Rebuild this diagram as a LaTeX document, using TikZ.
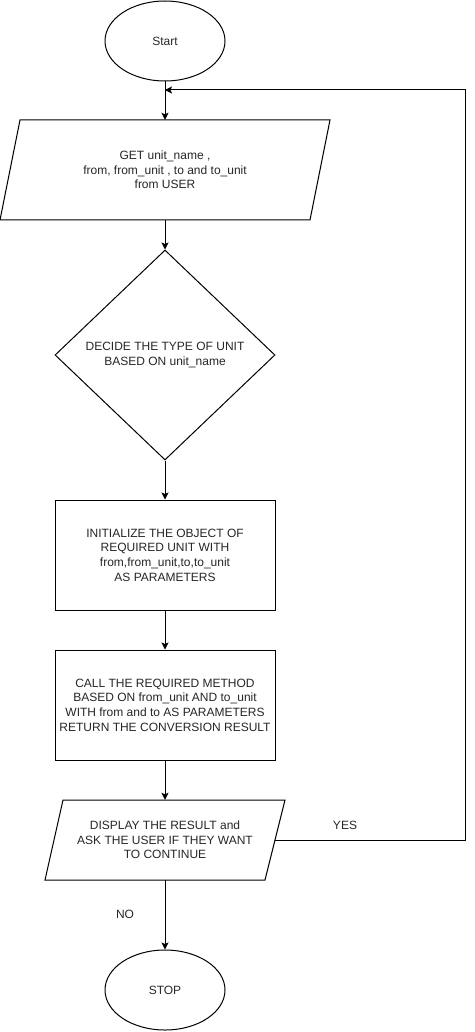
\documentclass[tikz,border=0pt]{standalone}
\usepackage{fontspec}
\setmainfont{Liberation Sans}
\usetikzlibrary{shapes.geometric,arrows.meta}
\begin{document}
\begin{tikzpicture}[x=1pt,y=-1pt,
  every node/.style={font=\fontsize{12}{14.6}\selectfont, align=center, inner sep=0pt, text=black!85},
  term/.style={draw=black, ellipse, minimum width=120pt, minimum height=80pt, line width=1pt},
  proc/.style={draw=black, rectangle, minimum width=220pt, minimum height=110pt, line width=1pt},
  decis/.style={draw=black, diamond, minimum width=220pt, minimum height=210pt, line width=1pt},
  iobox/.style={line width=1pt, draw=black, line join=miter},
  conn/.style={line width=1pt, -{Stealth[length=7pt,width=7pt,inset=1.5pt]}},
  lbl/.style={}
]
\useasboundingbox (0,0) rectangle (474,1032);

% nodes
\node[term] (start) at (165,41) {Start};

\node[minimum width=290pt, minimum height=100pt] (get) at (165,170)
  {GET unit\_name ,\\ from, from\_unit , to and to\_unit\\ from USER};
\draw[iobox] (20,120) -- (330,120) -- (310,220) -- (0,220) -- cycle;

\node[decis] (decide) at (165,355) {DECIDE THE TYPE OF UNIT\\ BASED ON unit\_name};

\node[proc] (init) at (165,555)
  {INITIALIZE THE OBJECT OF\\ REQUIRED UNIT WITH\\ from,from\_unit,to,to\_unit\\ AS PARAMETERS};

\node[proc] (call) at (165,705)
  {CALL THE REQUIRED METHOD\\ BASED ON from\_unit AND to\_unit\\ WITH from and to AS PARAMETERS\\ RETURN THE CONVERSION RESULT};

\node[minimum width=220pt, minimum height=80pt] (disp) at (165,840)
  {DISPLAY THE RESULT and\\ ASK THE USER IF THEY WANT\\ TO CONTINUE};
\draw[iobox] (63,800) -- (285,800) -- (265,880) -- (45,880) -- cycle;

\node[term] (stop) at (165,990) {STOP};

\node[lbl] (yes) at (345,825) {YES};
\node[lbl] (no) at (125,914) {NO};

% connectors
\coordinate (join) at (165,90);
\coordinate (corner) at (465,90);

\draw[conn] (start.south) -- (get.north);
\draw[conn] (get.south) -- (decide.north);
\draw[conn] (decide.south) -- (init.north);
\draw[conn] (init.south) -- (call.north);
\draw[conn] (call.south) -- (disp.north);
\draw[conn] (disp.south) -- (stop.north);
\draw[conn] (disp.east) -| (corner) -- (join);
\end{tikzpicture}
\end{document}
